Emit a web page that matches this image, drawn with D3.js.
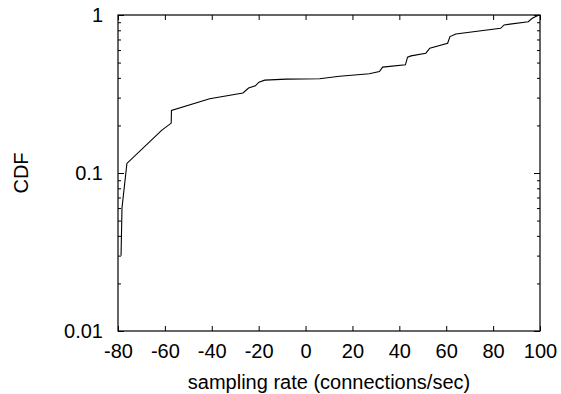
<!DOCTYPE html>
<html>
<head>
<meta charset="utf-8">
<script src="https://cdn.jsdelivr.net/npm/d3@7"></script>
<style>
  body { margin: 0; background: #fff; }
  text { font-family: "Liberation Sans", Arial, sans-serif; }
</style>
</head>
<body>
<script>
var width = 561,
    height = 394;

// sampling rate (x) and cumulative fraction (y)
var rates = [-78.7, -78.3, -76.2, -61.4, -57.3, -57.2, -40.9, -26.7, -24.3, -21.4,
             -19.9, -17.4, -8.2, 6.0, 14.5, 27.2, 31.5, 32.9, 42.6, 43.5,
             45.0, 51.3, 53.0, 60.6, 61.6, 64.1, 83.2, 84.7, 95.0, 96.7, 99.5];
var cdf = [0.030, 0.060, 0.115, 0.186, 0.207, 0.249, 0.295, 0.321, 0.345, 0.356,
           0.376, 0.387, 0.393, 0.395, 0.410, 0.425, 0.439, 0.468, 0.484, 0.541,
           0.551, 0.573, 0.616, 0.663, 0.730, 0.759, 0.824, 0.865, 0.907, 0.953, 1.0];

var xTicks = [-80, -60, -40, -20, 0, 20, 40, 60, 80, 100];
var yTicks = [0.01, 0.1, 1];
var yTickLabels = ["0.01", "0.1", "1"];
var yMinor = [0.02, 0.03, 0.04, 0.05, 0.06, 0.07, 0.08, 0.09,
              0.2, 0.3, 0.4, 0.5, 0.6, 0.7, 0.8, 0.9];

var plotLeft = 118, plotRight = 540, plotTop = 15, plotBottom = 331;
var fontSize = 20;

var x = d3.scaleLinear().domain([-80, 100]).range([plotLeft, plotRight]);
var y = d3.scaleLog().domain([0.01, 1]).range([plotBottom, plotTop]);

var svg = d3.select("body").append("svg")
    .attr("width", width)
    .attr("height", height);

function styleAxis(g, labels) {
  g.attr("font-size", fontSize)
   .attr("font-family", "Liberation Sans, Arial, sans-serif");
  g.select(".domain").remove();
  g.selectAll(".tick line").attr("stroke", "#000");
  g.selectAll(".tick text").attr("fill", "#000");
  if (!labels) g.selectAll(".tick text").remove();
}

// bottom / top
svg.append("g")
    .attr("transform", "translate(0," + plotBottom + ")")
    .call(d3.axisBottom(x).tickValues(xTicks).tickSize(-5).tickPadding(13)
      .tickFormat(function(d) { return String(d); }))
    .call(styleAxis, true);
svg.append("g")
    .attr("transform", "translate(0," + plotTop + ")")
    .call(d3.axisTop(x).tickValues(xTicks).tickSize(-5))
    .call(styleAxis, false);

// left / right, major and minor
svg.append("g")
    .attr("transform", "translate(" + plotLeft + ",0)")
    .call(d3.axisLeft(y).tickValues(yTicks).tickSize(-6).tickPadding(15)
      .tickFormat(function(d, i) { return yTickLabels[i]; }))
    .call(styleAxis, true);
svg.append("g")
    .attr("transform", "translate(" + plotLeft + ",0)")
    .call(d3.axisLeft(y).tickValues(yMinor).tickSize(-3))
    .call(styleAxis, false);
svg.append("g")
    .attr("transform", "translate(" + plotRight + ",0)")
    .call(d3.axisRight(y).tickValues(yTicks).tickSize(-6))
    .call(styleAxis, false);
svg.append("g")
    .attr("transform", "translate(" + plotRight + ",0)")
    .call(d3.axisRight(y).tickValues(yMinor).tickSize(-3))
    .call(styleAxis, false);

// frame
svg.append("rect")
    .attr("x", plotLeft)
    .attr("y", plotTop)
    .attr("width", plotRight - plotLeft)
    .attr("height", plotBottom - plotTop)
    .attr("fill", "none")
    .attr("stroke", "#000")
    .attr("stroke-width", 1.2);

// curve
var line = d3.line()
    .x(function(d) { return x(d[0]); })
    .y(function(d) { return y(d[1]); });

svg.append("path")
    .datum(d3.zip(rates, cdf))
    .attr("fill", "none")
    .attr("stroke", "#000")
    .attr("stroke-width", 1.1)
    .attr("d", line);

// axis titles
svg.append("text")
    .attr("x", (plotLeft + plotRight) / 2)
    .attr("y", 389)
    .attr("text-anchor", "middle")
    .attr("font-size", fontSize)
    .text("sampling rate (connections/sec)");

svg.append("text")
    .attr("transform", "translate(28," + ((plotTop + plotBottom) / 2) + ")rotate(-90)")
    .attr("text-anchor", "middle")
    .attr("font-size", fontSize)
    .text("CDF");
</script>
</body>
</html>
